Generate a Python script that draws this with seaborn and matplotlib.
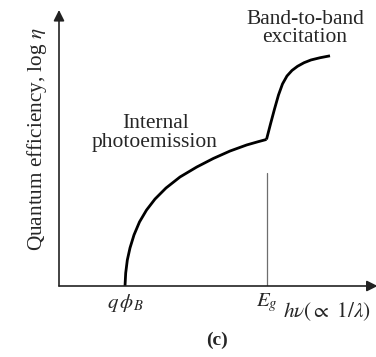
import matplotlib
matplotlib.use("Agg")
import matplotlib.pyplot as plt
import numpy as np
import pandas as pd
import seaborn as sns

# Photon energy (arbitrary units) and log quantum efficiency for the two regimes
photoemission_x = [2.082, 2.104, 2.155, 2.240, 2.366, 2.539, 2.760, 3.028, 3.375,
                   3.817, 4.344, 4.867, 5.394, 5.921, 6.287, 6.546]
photoemission_y = [0.00, 0.47, 0.94, 1.38, 1.85, 2.32, 2.75, 3.15, 3.55,
                   3.95, 4.31, 4.62, 4.89, 5.11, 5.23, 5.31]
band_x = [6.546, 6.672, 6.798, 6.924, 7.050, 7.192, 7.350, 7.524, 7.729, 7.950, 8.233, 8.549]
band_y = [5.31, 5.87, 6.41, 6.92, 7.32, 7.61, 7.81, 7.96, 8.09, 8.19, 8.27, 8.34]

# Characteristic energies on the photon-energy axis
q_phi_b = 2.082
e_gap = 6.546
e_gap_marker_top = 4.09
tick_positions = [q_phi_b, e_gap]
tick_labels = [r"$q\,\phi_B$", r"$E_g$"]

sns.set_theme(style="white")
plt.rcParams["font.family"] = ["Liberation Serif", "DejaVu Serif"]
plt.rcParams["mathtext.fontset"] = "stix"

fig = plt.figure(figsize=(3.76, 3.57), dpi=100)
ax = fig.add_axes([59 / 376, 71 / 357, 317 / 376, 276 / 357])

curve = pd.DataFrame({
    "energy": photoemission_x + band_x,
    "log_eta": photoemission_y + band_y,
    "regime": ["photoemission"] * len(photoemission_x) + ["band"] * len(band_x),
})
sns.lineplot(data=curve, x="energy", y="log_eta", units="regime", estimator=None,
             sort=False, color="black", lw=2.0, ax=ax, legend=False,
             solid_joinstyle="round", solid_capstyle="butt")

# Thin marker line at the band gap
ax.plot([e_gap, e_gap], [0, e_gap_marker_top], color="#6e6e6e", lw=0.9)

ax.set_xlim(0, 10)
ax.set_ylim(0, 10)
for side in ["top", "right", "left", "bottom"]:
    ax.spines[side].set_visible(False)

# Axes drawn as arrows
axis_color = "#222222"
ax.annotate("", xy=(0, 10), xytext=(0, 0),
            arrowprops=dict(arrowstyle="-|>", lw=1.2, color=axis_color,
                            mutation_scale=16, shrinkA=0, shrinkB=0),
            annotation_clip=False)
ax.annotate("", xy=(10.05, 0), xytext=(0, 0),
            arrowprops=dict(arrowstyle="-|>", lw=1.2, color=axis_color,
                            mutation_scale=16, shrinkA=0, shrinkB=0),
            annotation_clip=False)

ax.set_xticks(tick_positions)
ax.set_xticklabels(tick_labels, fontsize=15)
ax.tick_params(axis="x", length=0, pad=4)
ax.set_yticks([])

ax.set_xlabel("")
ax.set_ylabel(r"Quantum efficiency, log $\eta$", fontsize=15.3)
ax.yaxis.label.set_verticalalignment("center")
ax.yaxis.set_label_coords(-0.069, 0.533)

ax.text(7.08, -0.94, r"$h\nu(\propto\ 1/\lambda)$", fontsize=15.3,
        ha="left", va="center", clip_on=False)

ax.text(3.03, 5.54, "Internal\nphotoemission", fontsize=15.5, ha="center",
        va="center", linespacing=0.95)
ax.text(7.76, 9.33, "Band-to-band\nexcitation", fontsize=15.5, ha="center",
        va="center", linespacing=0.95)

fig.text(217 / 376, 1 - 340 / 357, "(c)", fontsize=14, fontweight="bold",
         ha="center", va="center")

fig.savefig("out.png", dpi=100)
